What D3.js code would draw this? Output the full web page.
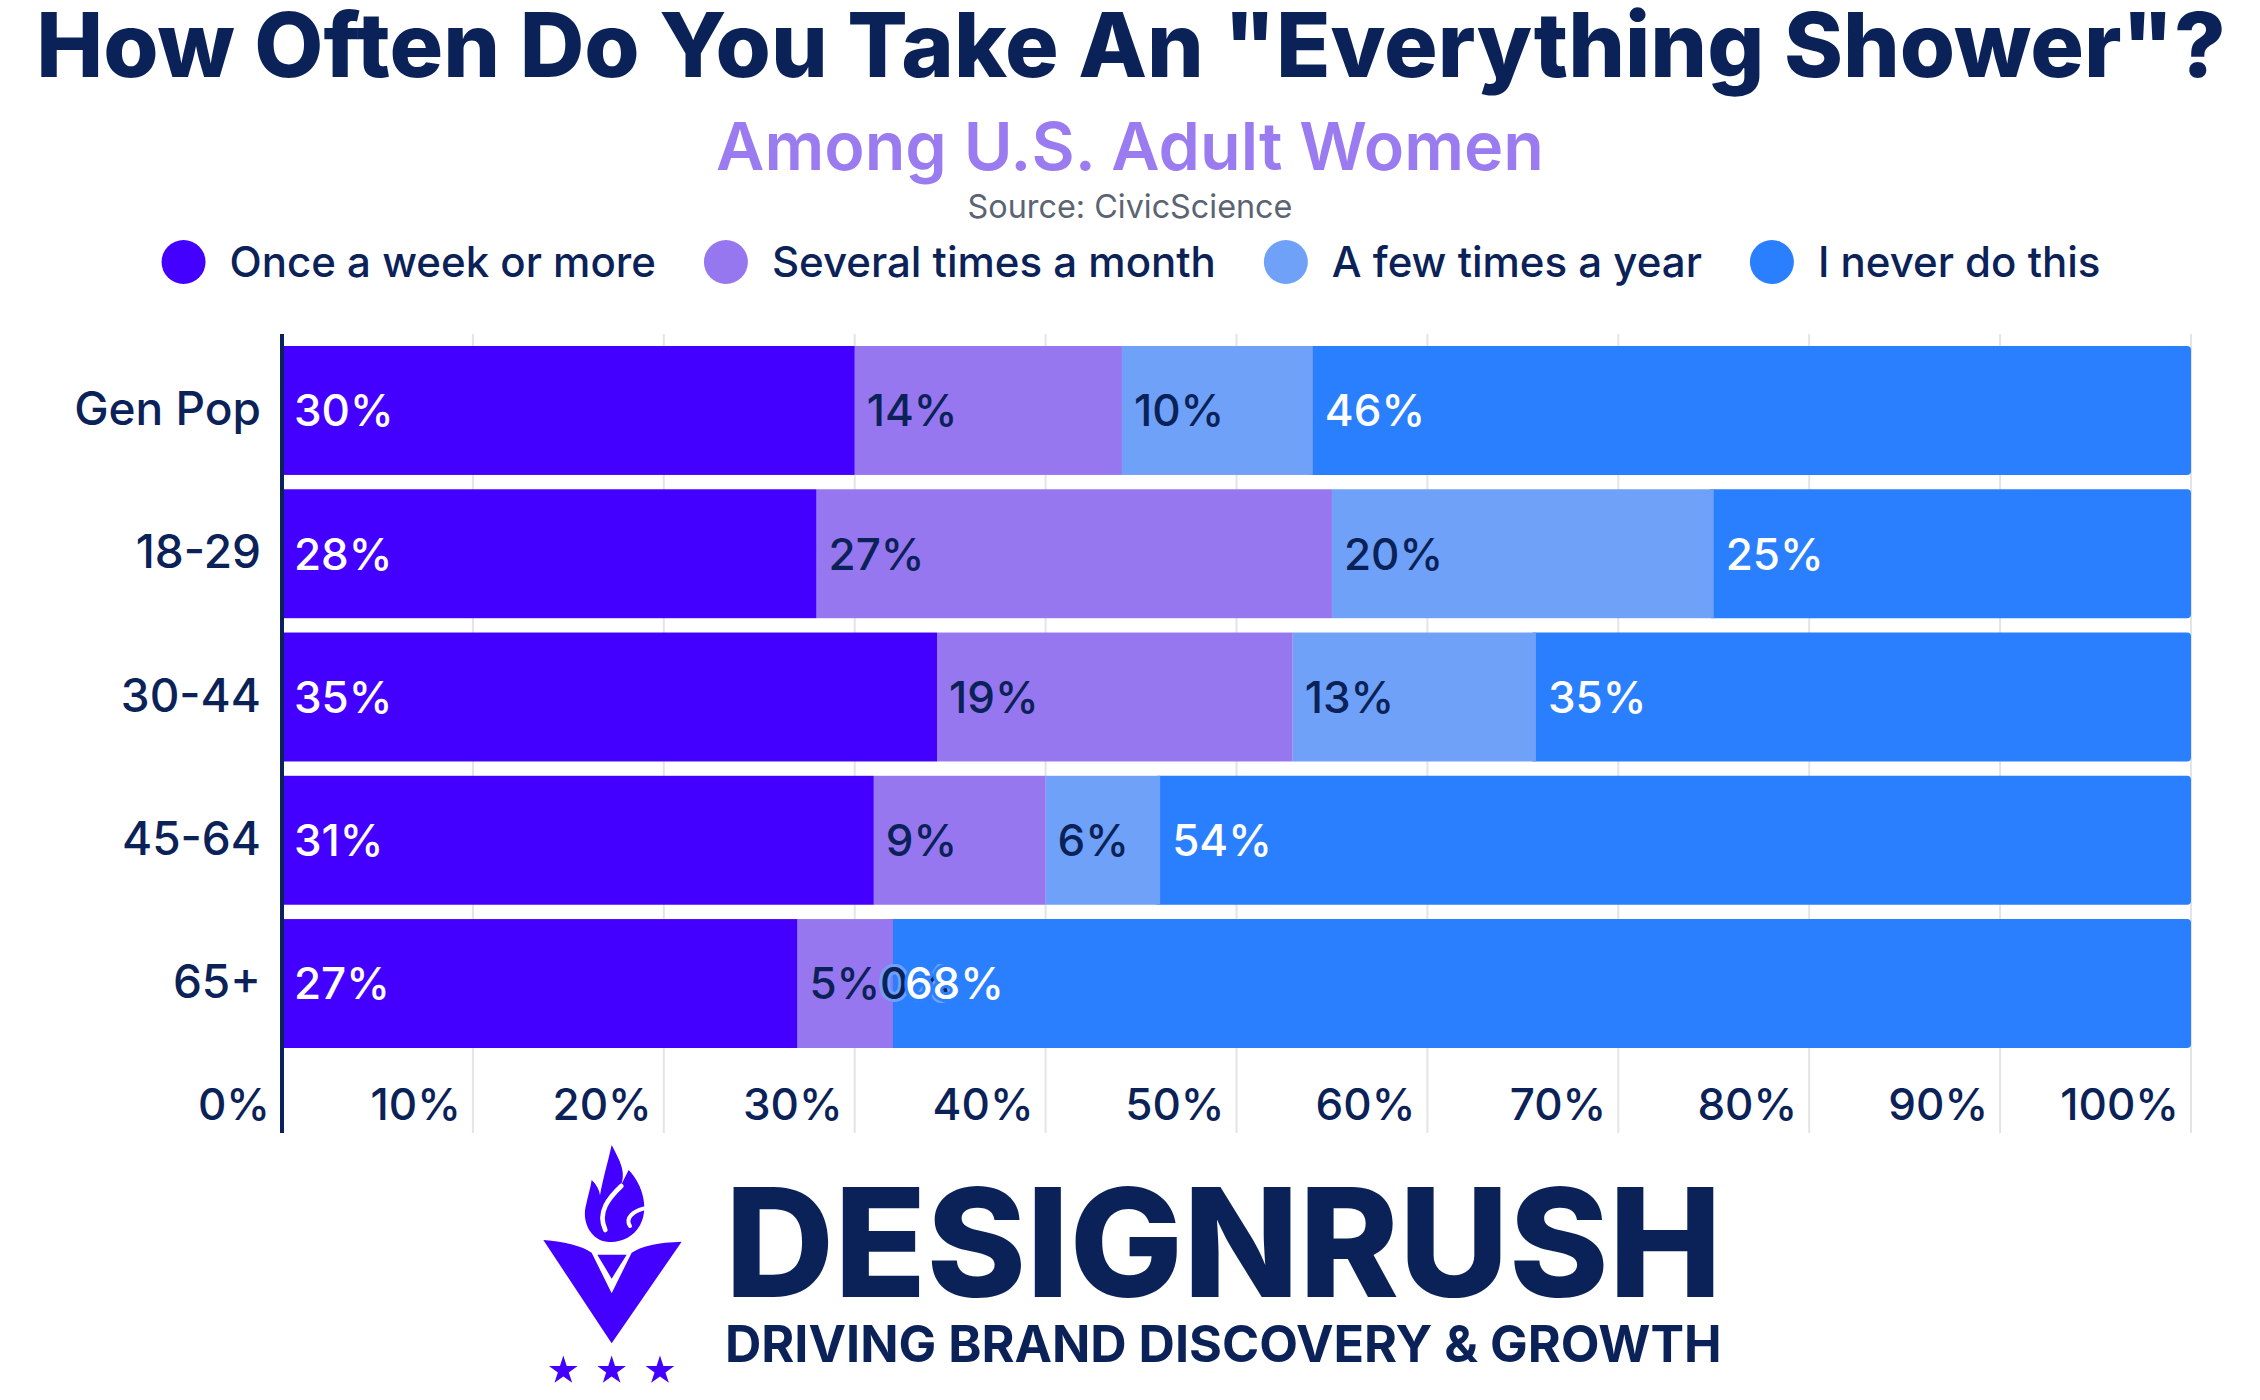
<!DOCTYPE html>
<html lang="en">
<head>
<meta charset="UTF-8" />
<title>How Often Do You Take An "Everything Shower"?</title>
<script src="https://d3js.org/d3.v7.min.js"></script>
<style>
  body { margin: 0; background: #fff; }
  svg { display: block; font-family: Inter, 'Noto Sans', sans-serif; }
</style>
</head>
<body>
<svg id="chart" width="2260" height="1400"></svg>
<script>
  // ---- data ----
  const groups = ["Gen Pop", "18-29", "30-44", "45-64", "65+"];
  const seriesNames = ["Once a week or more", "Several times a month", "A few times a year", "I never do this"];
  const onceWeek     = [30, 28, 35, 31, 27];
  const severalMonth = [14, 27, 19, 9, 5];
  const fewYear      = [10, 20, 13, 6, 0];
  const never        = [46, 25, 35, 54, 68];
  const tickValues = [0, 10, 20, 30, 40, 50, 60, 70, 80, 90, 100];

  const colors = ["#4400ff", "#9777ef", "#6fa1f8", "#2a7fff"];
  const labelColors = ["#ffffff", "#0b2259", "#0b2259", "#ffffff"];
  const navy = "#0b2259";

  const svg = d3.select("#chart");

  // shrink/grow a text so it spans a given width
  function fit(sel, width) {
    const fs = parseFloat(sel.attr("font-size"));
    const w = sel.node().getComputedTextLength();
    sel.attr("font-size", fs * width / w);
    return sel;
  }

  // ---- titles ----
  fit(svg.append("text")
    .attr("x", 1131).attr("y", 77)
    .attr("text-anchor", "middle")
    .attr("font-size", 96).attr("font-weight", 800)
    .attr("fill", navy)
    .text('How Often Do You Take An "Everything Shower"?'), 2190);

  fit(svg.append("text")
    .attr("x", 1130).attr("y", 170)
    .attr("text-anchor", "middle")
    .attr("font-size", 70).attr("font-weight", 600)
    .attr("fill", "#9b7cf0")
    .text("Among U.S. Adult Women"), 828);

  fit(svg.append("text")
    .attr("x", 1130).attr("y", 218)
    .attr("text-anchor", "middle")
    .attr("font-size", 32).attr("font-weight", 400)
    .attr("fill", "#5b6472")
    .text("Source: CivicScience"), 325);

  // ---- legend ----
  const legend = svg.append("g");
  let lx = 0;
  seriesNames.forEach((name, i) => {
    const item = legend.append("g").attr("transform", `translate(${lx},0)`);
    item.append("circle").attr("cx", 22).attr("cy", 0).attr("r", 22).attr("fill", colors[i]);
    const t = item.append("text")
      .attr("x", 68).attr("y", 15)
      .attr("font-size", 42).attr("font-weight", 500)
      .attr("fill", navy)
      .text(name);
    lx += 68 + t.node().getComputedTextLength() + 48;
  });
  const legendW = lx - 48;
  legend.attr("transform", `translate(${1131 - legendW / 2},262)`);

  // ---- scales ----
  const x = d3.scaleLinear().domain([0, 1]).range([282, 2191]);
  const y = d3.scaleBand().domain(groups).range([346, 1048]).paddingInner(0.1).paddingOuter(0);

  const rows = groups.map((g, i) => ({
    group: g,
    [seriesNames[0]]: onceWeek[i],
    [seriesNames[1]]: severalMonth[i],
    [seriesNames[2]]: fewYear[i],
    [seriesNames[3]]: never[i]
  }));
  // each row is shown as share of its own total (30-44 adds to 102)
  const stacked = d3.stack().keys(seriesNames).offset(d3.stackOffsetExpand)(rows);

  // ---- grid ----
  svg.append("g")
    .selectAll("line")
    .data(tickValues.filter(d => d > 0))
    .join("line")
    .attr("x1", d => x(d / 100)).attr("x2", d => x(d / 100))
    .attr("y1", 334).attr("y2", 1133)
    .attr("stroke", "#e4e4e8").attr("stroke-width", 2);

  // ---- bars (last series first so its rounded end tucks underneath) ----
  const barG = svg.append("g");
  stacked.slice().reverse().forEach(layer => {
    const si = seriesNames.indexOf(layer.key);
    const last = si === seriesNames.length - 1;
    barG.append("g")
      .selectAll("rect")
      .data(layer)
      .join("rect")
      .attr("x", d => x(d[0]) - (last ? 6 : 0))
      .attr("y", d => y(d.data.group))
      .attr("width", d => Math.max(0, x(d[1]) - x(d[0])) + (last ? 6 : 0))
      .attr("height", y.bandwidth())
      .attr("rx", last ? 4 : 0)
      .attr("fill", colors[si]);
  });

  // ---- value labels ----
  const labelG = svg.append("g");
  stacked.forEach((layer, si) => {
    labelG.append("g")
      .selectAll("text")
      .data(layer)
      .join("text")
      .attr("x", d => d.data[layer.key] === 0 ? x(d[0]) - 13 : x(d[0]) + 12)
      .attr("y", d => y(d.data.group) + y.bandwidth() / 2)
      .attr("dy", "0.36em")
      .attr("font-size", 44).attr("font-weight", 500)
      .attr("fill", labelColors[si])
      .attr("stroke", colors[si]).attr("stroke-width", 6)
      .attr("stroke-linejoin", "round")
      .attr("paint-order", "stroke")
      .text(d => d.data[layer.key] + "%");
  });

  // ---- axes ----
  const yAxis = svg.append("g")
    .attr("transform", "translate(282,0)")
    .call(d3.axisLeft(y).tickSize(0).tickPadding(21));
  yAxis.select(".domain").remove();
  yAxis.selectAll("text")
    .attr("font-size", 46).attr("font-weight", 500)
    .attr("fill", navy)
    .attr("font-family", "Inter, 'Noto Sans', sans-serif");

  svg.append("line")
    .attr("x1", 282).attr("x2", 282)
    .attr("y1", 334).attr("y2", 1133)
    .attr("stroke", navy).attr("stroke-width", 4);

  svg.append("g")
    .selectAll("text")
    .data(tickValues)
    .join("text")
    .attr("x", d => x(d / 100) - 12)
    .attr("y", 1120)
    .attr("text-anchor", "end")
    .attr("font-size", 44).attr("font-weight", 500)
    .attr("fill", navy)
    .text(d => d + "%");

  // ---- logo ----
  const logo = svg.append("g").attr("transform", "translate(530,1130) scale(0.3333)");
  const purple = "#4400ff";
  logo.append("path")
    .attr("d", "M245,45 C268,90 292,128 270,172 L296,120 C342,168 356,240 330,286 C306,330 252,346 210,330 C170,310 158,262 168,226 C174,196 182,172 185,150 C200,164 208,180 210,196 C220,140 234,96 245,45 Z")
    .attr("fill", purple);
  logo.append("path")
    .attr("d", "M274,168 C238,202 200,246 226,300")
    .attr("fill", "none").attr("stroke", "#fff").attr("stroke-width", 14).attr("stroke-linecap", "round");
  logo.append("path")
    .attr("d", "M340,236 C312,244 284,262 300,288")
    .attr("fill", "none").attr("stroke", "#fff").attr("stroke-width", 12).attr("stroke-linecap", "round");
  logo.append("path")
    .attr("d", "M40,330 Q140,338 185,368 L245,490 L305,368 Q350,338 455,335 L245,640 Z")
    .attr("fill", purple);
  logo.append("path")
    .attr("d", "M202,374 L290,374 L245,446 Z")
    .attr("fill", purple);
  [100, 245, 390].forEach(cx => {
    logo.append("path")
      .attr("transform", `translate(${cx},722)`)
      .attr("d", d3.symbol().type(d3.symbolStar).size(2300)())
      .attr("fill", purple);
  });

  fit(svg.append("text")
    .attr("x", 725).attr("y", 1297)
    .attr("font-size", 150).attr("font-weight", 800)
    .attr("fill", navy)
    .text("DESIGNRUSH"), 997);

  fit(svg.append("text")
    .attr("x", 725).attr("y", 1362)
    .attr("font-size", 56).attr("font-weight", 700)
    .attr("fill", navy)
    .text("DRIVING BRAND DISCOVERY & GROWTH"), 997);
</script>
</body>
</html>
